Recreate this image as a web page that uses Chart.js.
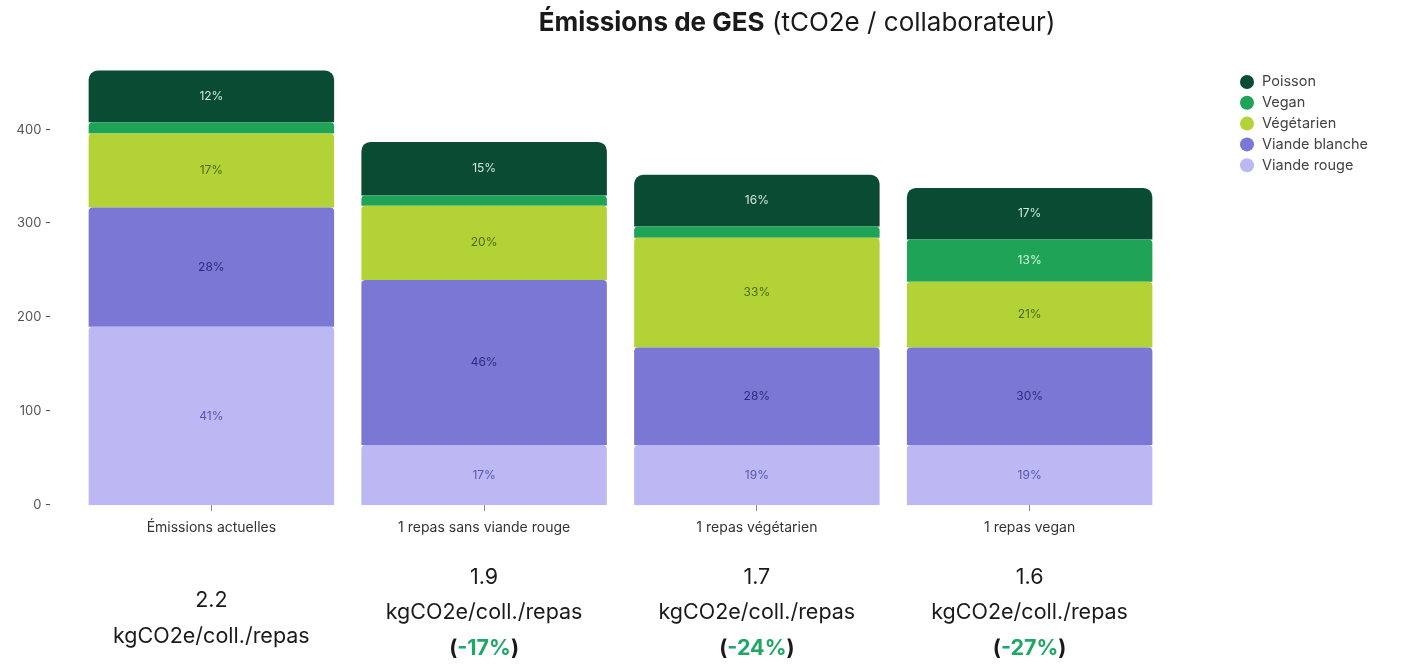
<!DOCTYPE html>
<html>
<head>
<meta charset="utf-8">
<script src="https://cdn.jsdelivr.net/npm/chart.js@4"></script>
<style>
html,body{margin:0;padding:0;background:#fff;}
#wrap{position:relative;width:1404px;height:670px;}
</style>
</head>
<body>
<div id="wrap"><canvas id="c" width="1404" height="670"></canvas></div>
<script>
const categories = ['Émissions actuelles', '1 repas sans viande rouge', '1 repas végétarien', '1 repas vegan'];
const seriesNames = ['Viande rouge', 'Viande blanche', 'Végétarien', 'Vegan', 'Poisson'];
const viandeRouge = [190, 64, 64, 64];
const viandeBlanche = [127, 176, 104, 104];
const vegetarien = [79, 79, 117, 70];
const vegan = [12, 11, 12, 45];
const poisson = [55, 57, 55, 55];
const viandeRougeLabels = ['41%', '17%', '19%', '19%'];
const viandeBlancheLabels = ['28%', '46%', '28%', '30%'];
const vegetarienLabels = ['17%', '20%', '33%', '21%'];
const veganLabels = ['', '', '', '13%'];
const poissonLabels = ['12%', '15%', '16%', '17%'];
const yTicks = [0, 100, 200, 300, 400];
const perMeal = ['2.2', '1.9', '1.7', '1.6'];
const reductions = ['', '-17%', '-24%', '-27%'];
const unitText = 'kgCO2e/coll./repas';
const titleBold = 'Émissions de GES';
const titleRest = ' (tCO2e / collaborateur)';

const FONT = 'Inter, "Noto Sans", sans-serif';
const colors = ['#bcb8f4', '#7b77d4', '#b3d236', '#1fa457', '#0a4b34'];
const labelColors = ['#5a57b0', '#2e2b80', '#4e6a10', '#d8f5e0', '#cfe8da'];
const valueSets = [viandeRouge, viandeBlanche, vegetarien, vegan, poisson];
const labelSets = [viandeRougeLabels, viandeBlancheLabels, vegetarienLabels, veganLabels, poissonLabels];

const datasets = seriesNames.map((name, i) => ({
  label: name,
  data: valueSets[i],
  backgroundColor: colors[i],
  borderWidth: 0,
  borderSkipped: false,
  borderRadius: i === 4 ? {topLeft: 9, topRight: 9, bottomLeft: 0, bottomRight: 0}
                        : {topLeft: 4, topRight: 4, bottomLeft: 0, bottomRight: 0},
  barPercentage: 0.9,
  categoryPercentage: 1.0,
  segLabels: labelSets[i],
  segLabelColor: labelColors[i]
}));

const decor = {
  id: 'decor',
  afterDatasetsDraw(chart) {
    const ctx = chart.ctx;
    ctx.save();
    ctx.textAlign = 'center';
    ctx.textBaseline = 'middle';
    ctx.font = '12px ' + FONT;
    chart.data.datasets.forEach((ds, di) => {
      const meta = chart.getDatasetMeta(di);
      meta.data.forEach((bar, i) => {
        const t = ds.segLabels[i];
        if (!t) return;
        const p = bar.getProps(['x', 'y', 'base'], true);
        ctx.fillStyle = ds.segLabelColor;
        ctx.fillText(t, p.x, (p.y + p.base) / 2);
      });
    });
    ctx.restore();
  },
  afterDraw(chart) {
    const ctx = chart.ctx;
    const xs = chart.scales.x;
    ctx.save();
    // Title
    ctx.textBaseline = 'middle';
    ctx.textAlign = 'left';
    const TS = '26px ';
    ctx.font = 'bold ' + TS + FONT;
    const wb = ctx.measureText(titleBold).width;
    ctx.font = TS + FONT;
    const wr = ctx.measureText(titleRest).width;
    const cx = 797;
    let x0 = cx - (wb + wr) / 2;
    ctx.fillStyle = '#1a1a1a';
    ctx.font = 'bold ' + TS + FONT;
    ctx.fillText(titleBold, x0, 23);
    ctx.font = TS + FONT;
    ctx.fillText(titleRest, x0 + wb, 23);

    // Bottom annotations
    ctx.textAlign = 'center';
    const AS = '21.5px ';
    categories.forEach((c, i) => {
      const x = xs.getPixelForValue(i);
      ctx.fillStyle = '#1a1a1a';
      ctx.font = AS + FONT;
      if (!reductions[i]) {
        ctx.fillText(perMeal[i], x, 601);
        ctx.fillText(unitText, x, 637);
      } else {
        ctx.fillText(perMeal[i], x, 578);
        ctx.fillText(unitText, x, 613);
        ctx.font = 'bold ' + AS + FONT;
        const inner = reductions[i];
        const wp = ctx.measureText('(').width;
        const wi = ctx.measureText(inner).width;
        const wc = ctx.measureText(')').width;
        let sx = x - (wp + wi + wc) / 2;
        ctx.textAlign = 'left';
        ctx.fillStyle = '#1a1a1a';
        ctx.fillText('(', sx, 649);
        ctx.fillStyle = '#1fa766';
        ctx.fillText(inner, sx + wp, 649);
        ctx.fillStyle = '#1a1a1a';
        ctx.fillText(')', sx + wp + wi, 649);
        ctx.textAlign = 'center';
      }
    });

    // Legend (reverse order)
    ctx.textAlign = 'left';
    ctx.font = '14.5px ' + FONT;
    const order = chart.data.datasets.map((d, i) => i).reverse();
    order.forEach((di, k) => {
      const ds = chart.data.datasets[di];
      const y = 82 + k * 20.8;
      ctx.beginPath();
      ctx.arc(1247, y, 7, 0, Math.PI * 2);
      ctx.fillStyle = ds.backgroundColor;
      ctx.fill();
      ctx.fillStyle = '#444';
      ctx.fillText(ds.label, 1262, y);
    });
    ctx.restore();
  }
};

new Chart(document.getElementById('c'), {
  type: 'bar',
  data: { labels: categories, datasets },
  options: {
    responsive: false,
    animation: false,
    maintainAspectRatio: false,
    layout: { padding: { left: 0, right: 238, top: 64, bottom: 126 } },
    plugins: { legend: { display: false }, title: { display: false }, tooltip: { enabled: false } },
    scales: {
      x: {
        stacked: true,
        grid: { display: true, offset: false, drawOnChartArea: false, drawTicks: true, tickLength: 6, color: '#888', tickWidth: 1 },
        border: { display: false },
        ticks: { color: '#333', font: { family: FONT, size: 14 }, padding: 8, maxRotation: 0 }
      },
      y: {
        stacked: true,
        min: 0,
        max: 470,
        afterBuildTicks(scale) { scale.ticks = yTicks.map(v => ({ value: v })); },
        afterFit(scale) { scale.width = 75; },
        grid: { display: false },
        border: { display: false },
        ticks: { color: '#555', font: { family: FONT, size: 13 }, padding: 16, callback: v => v + ' -' }
      }
    }
  },
  plugins: [decor]
});
</script>
</body>
</html>
